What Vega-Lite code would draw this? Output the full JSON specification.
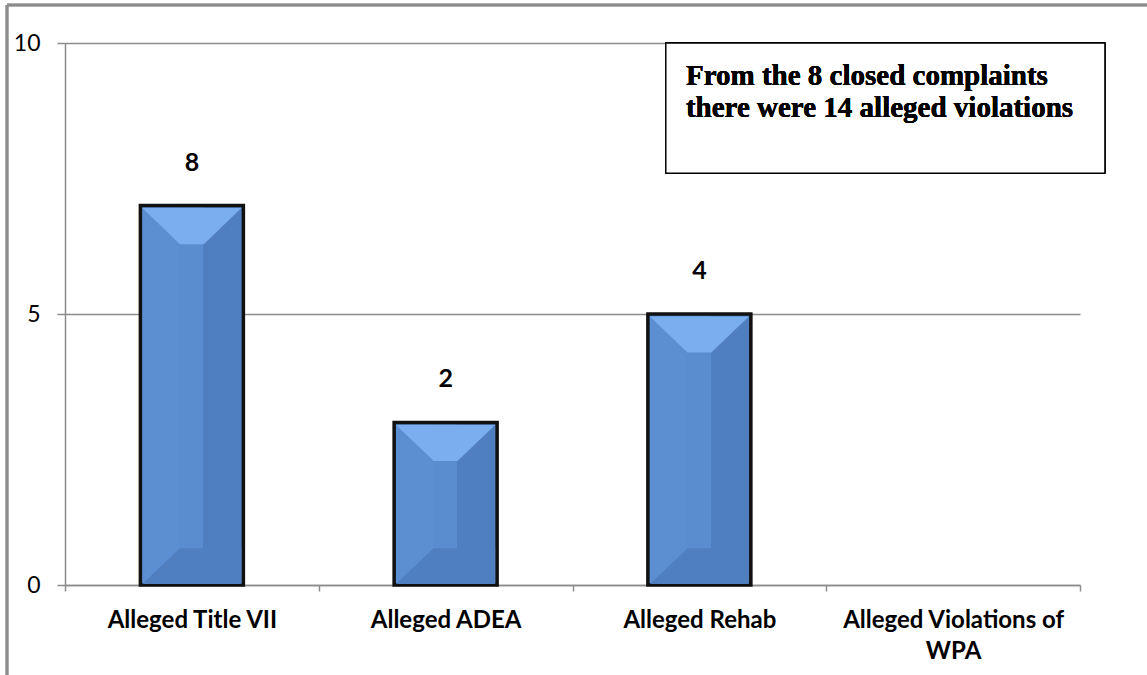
{
  "$schema": "https://vega.github.io/schema/vega-lite/v6.json",
  "width": 1015,
  "height": 542,
  "autosize": {"type": "none"},
  "padding": {"left": 65, "top": 43, "right": 67, "bottom": 90},
  "background": "white",
  "config": {"view": {"stroke": null}},
  "data": {
    "values": [
      {"category": "Alleged Title VII", "height": 7, "label": "8"},
      {"category": "Alleged ADEA", "height": 3, "label": "2"},
      {"category": "Alleged Rehab", "height": 5, "label": "4"},
      {"category": "Alleged Violations of WPA", "height": 0, "label": ""}
    ]
  },
  "layer": [
    {
      "encoding": {
        "x": {
          "field": "category",
          "type": "nominal",
          "sort": null,
          "scale": {"domain": ["Alleged Title VII", "Alleged ADEA", "Alleged Rehab", "Alleged Violations of WPA"], "paddingInner": 0, "paddingOuter": 0},
          "axis": {
            "title": null,
            "labelAngle": 0,
            "labelFont": "Lato",
            "labelFontWeight": "bold",
            "labelFontSize": 24,
            "labelColor": "#000000",
            "labelPadding": 17,
            "labelLineHeight": 31,
            "labelLimit": 500,
            "labelExpr": "datum.label == 'Alleged Violations of WPA' ? ['Alleged Violations of', 'WPA'] : datum.label",
            "tickBand": "extent",
            "tickSize": 6,
            "tickColor": "#8c8c8c",
            "tickWidth": 1.5,
            "domainColor": "#8c8c8c",
            "domainWidth": 1.5,
            "grid": false
          }
        },
        "y": {
          "field": "height",
          "type": "quantitative",
          "scale": {"domain": [0, 10], "nice": false},
          "axis": {
            "title": null,
            "values": [0, 5, 10],
            "grid": true,
            "gridColor": "#8c8c8c",
            "gridWidth": 1.5,
            "domainColor": "#8c8c8c",
            "domainWidth": 1.5,
            "tickColor": "#8c8c8c",
            "tickWidth": 1.5,
            "tickSize": 8,
            "labelFont": "Lato",
            "labelFontSize": 23,
            "labelColor": "#000000",
            "labelPadding": 17
          }
        }
      },
      "layer": [
        {
          "transform": [{"filter": "datum.height > 0"}],
          "mark": {
            "type": "bar",
            "width": 103,
            "stroke": "#111111",
            "strokeWidth": 3.5,
            "color": {
              "gradient": "linear",
              "x1": 0, "y1": 0, "x2": 1, "y2": 0,
              "stops": [
                {"offset": 0, "color": "#5B8FD2"},
                {"offset": 0.375, "color": "#5B8FD2"},
                {"offset": 0.375, "color": "#5A8DCF"},
                {"offset": 0.61, "color": "#5A8DCF"},
                {"offset": 0.61, "color": "#4F7FBE"},
                {"offset": 1, "color": "#4F7FBE"}
              ]
            }
          }
        },
        {
          "transform": [{"filter": "datum.height > 0"}],
          "mark": {
            "type": "point",
            "filled": true,
            "opacity": 1,
            "strokeWidth": 0,
            "size": 9801,
            "color": "#7BAEEF",
            "shape": "M-1,0.05 L1,0.05 L0.24,0.78 L-0.24,0.78 Z"
          }
        },
        {
          "transform": [{"filter": "datum.height > 0"}],
          "mark": {
            "type": "point",
            "filled": true,
            "opacity": 1,
            "strokeWidth": 0,
            "size": 9801,
            "color": "#4F7FBE",
            "shape": "M-1,-0.02 L1,-0.02 L1,-0.74 L-0.24,-0.74 Z"
          },
          "encoding": {"y": {"datum": 0, "type": "quantitative"}}
        },
        {
          "mark": {
            "type": "text",
            "font": "Lato",
            "fontWeight": "bold",
            "fontSize": 25,
            "color": "#000000",
            "baseline": "middle",
            "dy": -43
          },
          "encoding": {"text": {"field": "label"}}
        }
      ]
    },
    {
      "encoding": {
        "x": {"datum": 0, "type": "quantitative", "scale": {"domain": [0, 4], "nice": false, "zero": false}, "axis": null}
      },
      "layer": [
        {
          "mark": {"type": "rule", "color": "#8c8c8c", "strokeWidth": 2.5},
          "encoding": {
            "x": {"datum": -0.2286, "type": "quantitative"},
            "x2": {"datum": 4.6},
            "y": {"datum": 10.7, "type": "quantitative"}
          }
        },
        {
          "mark": {"type": "rule", "color": "#8c8c8c", "strokeWidth": 2.5},
          "encoding": {
            "x": {"datum": -0.2286, "type": "quantitative"},
            "y": {"datum": 10.7, "type": "quantitative"},
            "y2": {"datum": -1.8}
          }
        },
        {
          "mark": {"type": "rect", "fill": "white", "stroke": "#000000", "strokeWidth": 1.3},
          "encoding": {
            "x": {"datum": 2.368, "type": "quantitative"},
            "x2": {"datum": 4.098},
            "y": {"datum": 7.6, "type": "quantitative"},
            "y2": {"datum": 10}
          }
        },
        {
          "mark": {
            "type": "text",
            "font": "Liberation Serif",
            "fontWeight": "bold",
            "fontSize": 29,
            "lineHeight": 32,
            "align": "left",
            "baseline": "alphabetic",
            "color": "#000000",
            "text": ["From the 8 closed complaints", "there were 14 alleged violations"]
          },
          "encoding": {
            "x": {"datum": 2.447, "type": "quantitative"},
            "y": {"datum": 9.225, "type": "quantitative"}
          }
        }
      ]
    }
  ],
  "resolve": {"scale": {"x": "independent"}, "axis": {"x": "independent"}}
}
